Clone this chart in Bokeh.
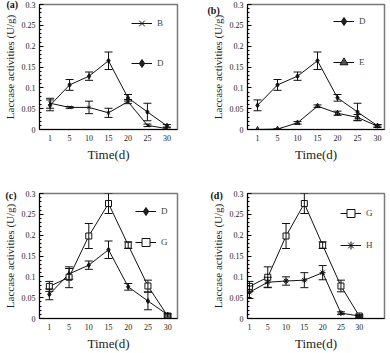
from bokeh.plotting import figure
from bokeh.models import (Range1d, FixedTicker, Whisker, ColumnDataSource, Legend,
                          LegendItem, TeeHead)
from bokeh.layouts import gridplot
from bokeh.embed import file_html
from bokeh.resources import INLINE

# ---- data ----
days = [1, 5, 10, 15, 20, 25, 30]
y_ticks = [0, 0.05, 0.1, 0.15, 0.2, 0.25, 0.3]
y_labels = ["0", "0.05", "0.1", "0.15", "0.2", "0.25", "0.3"]

B = [0.063, 0.053, 0.053, 0.040, 0.067, 0.010, 0.002]
B_err = [0.012, 0.002, 0.015, 0.011, 0.005, 0.003, 0.002]
D = [0.058, 0.107, 0.128, 0.165, 0.076, 0.042, 0.009]
D_err = [0.013, 0.013, 0.010, 0.021, 0.008, 0.021, 0.003]
E = [0.000, 0.001, 0.016, 0.056, 0.039, 0.029, 0.008]
E_err = [0.000, 0.001, 0.003, 0.003, 0.005, 0.007, 0.003]
G = [0.077, 0.099, 0.198, 0.276, 0.176, 0.078, 0.006]
G_err = [0.012, 0.025, 0.030, 0.024, 0.008, 0.014, 0.003]
H = [0.063, 0.087, 0.090, 0.092, 0.110, 0.013, 0.006]
H_err = [0.015, 0.012, 0.010, 0.018, 0.017, 0.003, 0.002]

SERIF = "Liberation Serif"
idx = list(range(len(days)))

styles = {
    "B": dict(marker="x", size=5, fill_color="black"),
    "D": dict(marker="diamond", size=5, fill_color="#222222"),
    "E": dict(marker="triangle", size=5, fill_color="#555555"),
    "G": dict(marker="square", size=6, fill_color="white"),
    "H": dict(marker="asterisk", size=6, fill_color="black"),
}
series = {"B": (B, B_err), "D": (D, D_err), "E": (E, E_err), "G": (G, G_err), "H": (H, H_err)}


def panel(tag, names, xr, h, borders, tag_off, tag_standoff, leg_xy, leg_spacing):
    left, right, top, bottom = borders
    p = figure(width=195, height=h, output_backend="svg", toolbar_location=None,
               x_range=Range1d(*xr), y_range=Range1d(0, 0.3),
               min_border_left=left, min_border_right=right,
               min_border_top=top, min_border_bottom=bottom)
    p.xgrid.visible = False
    p.ygrid.visible = False
    p.outline_line_color = "#7a7a7a"
    p.outline_line_width = 1.5
    p.background_fill_color = "white"
    p.border_fill_color = "white"

    # panel tag as the title, pulled down beside the frame's top-left corner
    p.title.text = tag
    p.title.align = "left"
    p.title.vertical_align = "bottom"
    p.title.text_baseline = "middle"
    p.title.offset = tag_off
    p.title.standoff = tag_standoff
    p.title.text_font = SERIF
    p.title.text_font_style = "bold"
    p.title.text_font_size = "10px"
    p.title.text_color = "#111111"

    items = []
    for n in names:
        vals, errs = series[n]
        src = ColumnDataSource(dict(x=idx, y=vals,
                                    upper=[v + e for v, e in zip(vals, errs)],
                                    lower=[v - e for v, e in zip(vals, errs)]))
        w = Whisker(base="x", upper="upper", lower="lower", source=src,
                    line_color="#111111", line_width=1, level="glyph",
                    upper_head=TeeHead(size=8, line_color="#111111", line_width=1),
                    lower_head=TeeHead(size=8, line_color="#111111", line_width=1))
        p.add_layout(w)
        ln = p.line("x", "y", source=src, line_color="#111111", line_width=1)
        st = styles[n]
        sc = p.scatter("x", "y", source=src, marker=st["marker"], size=st["size"],
                       line_color="#111111", fill_color=st["fill_color"], line_width=1)
        items.append(LegendItem(label=n, renderers=[ln, sc]))

    leg = Legend(items=items, location=leg_xy, glyph_width=21, glyph_height=20,
                 label_height=20, spacing=leg_spacing, padding=0, margin=0,
                 border_line_alpha=0, background_fill_alpha=0,
                 label_text_font=SERIF, label_text_font_size="9px", label_standoff=5)
    p.add_layout(leg)

    # axes
    p.xaxis.ticker = FixedTicker(ticks=idx)
    p.xaxis.major_label_overrides = {i: str(d) for i, d in zip(idx, days)}
    p.yaxis.ticker = FixedTicker(ticks=y_ticks, minor_ticks=[i / 100 for i in range(31)])
    p.yaxis.major_label_overrides = {t: l for t, l in zip(y_ticks, y_labels)}
    for ax in (p.xaxis[0], p.yaxis[0]):
        ax.axis_line_color = "black"
        ax.axis_line_width = 1
        ax.major_label_text_font = SERIF
        ax.major_label_text_font_size = "8px"
        ax.major_label_text_color = "#222222"
        ax.axis_label_text_font = SERIF
        ax.axis_label_text_font_style = "normal"
        ax.axis_label_text_color = "#222222"
        ax.major_tick_out = 0
        ax.minor_tick_out = 0
    p.xaxis.major_tick_in = 0
    p.xaxis.minor_tick_in = 0
    p.yaxis.major_tick_in = 4
    p.yaxis.minor_tick_in = 2
    p.yaxis.major_label_standoff = 4
    p.xaxis.major_label_standoff = 5
    p.xaxis.axis_label = "Time(d)"
    p.yaxis.axis_label = "Laccase activities (U/g)"
    p.xaxis.axis_label_text_font_size = "13px"
    p.yaxis.axis_label_text_font_size = "11px"
    p.xaxis.axis_label_standoff = 3
    p.yaxis.axis_label_standoff = 3
    return p


pa = panel("(a)", ["B", "D"], (-0.545, 6.545), 176, (35, 17, 4, 47), -33, -10, (92, 56), 20)
pb = panel("(b)", ["D", "E"], (-0.5, 6.35), 176, (52, 6, 4, 47), -40, -22, (86, 57), 21)
pc = panel("(c)", ["D", "G"], (-0.5, 6.5), 177, (36, 18, 17, 34), -34, -14, (96, 66), 11)
pd = panel("(d)", ["G", "H"], (-0.106, 7.38), 177, (52, 3, 16, 34), -37, -14, (93, 63), 12)

grid = gridplot([[pa, pb], [pc, pd]], toolbar_location=None)
open("out.html", "w").write(file_html(grid, INLINE))
